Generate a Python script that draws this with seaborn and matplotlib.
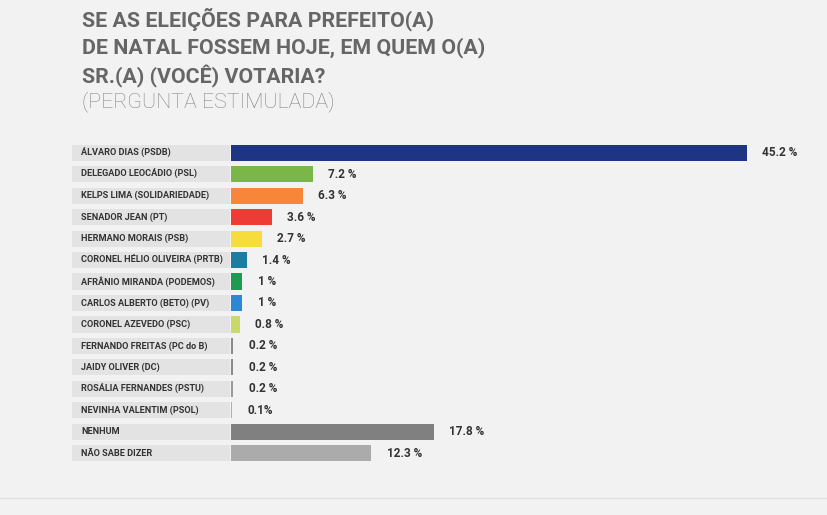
import pandas as pd
import matplotlib.pyplot as plt
import seaborn as sns
from matplotlib.patches import Rectangle
from matplotlib.transforms import blended_transform_factory

# Data
candidates = [
    "ÁLVARO DIAS (PSDB)", "DELEGADO LEOCÁDIO (PSL)", "KELPS LIMA (SOLIDARIEDADE)",
    "SENADOR JEAN (PT)", "HERMANO MORAIS (PSB)", "CORONEL HÉLIO OLIVEIRA (PRTB)",
    "AFRÂNIO MIRANDA (PODEMOS)", "CARLOS ALBERTO (BETO) (PV)", "CORONEL AZEVEDO (PSC)",
    "FERNANDO FREITAS (PC do B)", "JAIDY OLIVER (DC)", "ROSÁLIA FERNANDES (PSTU)",
    "NEVINHA VALENTIM (PSOL)", "NENHUM", "NÃO SABE DIZER",
]
values = [45.2, 7.2, 6.3, 3.6, 2.7, 1.4, 1.0, 1.0, 0.8, 0.2, 0.2, 0.2, 0.1, 17.8, 12.3]
value_labels = ["45.2 %", "7.2 %", "6.3 %", "3.6 %", "2.7 %", "1.4 %", "1 %", "1 %",
                "0.8 %", "0.2 %", "0.2 %", "0.2 %", "0.1%", "17.8 %", "12.3 %"]
colors = ["#1d3582", "#7ab648", "#f7853a", "#ef3b36", "#f6dc3c", "#1a7ea3", "#1f9a50",
          "#2a88d6", "#c9d86a", "#8a8a8a", "#8a8a8a", "#9a9a9a", "#b0b0b0",
          "#808080", "#ababab"]

df = pd.DataFrame({"Candidato": candidates, "Pct": values})

bg = "#f2f2f2"
fig = plt.figure(figsize=(8.28, 5.15), dpi=100, facecolor=bg)
W, H = 828, 515
# axes: bars start at x=231px, 45.2 ends at ~747px
ax = fig.add_axes([231 / W, 1 - 464 / H, 569 / W, (464 - 142) / H])
ax.set_facecolor(bg)

sns.barplot(data=df, y="Candidato", x="Pct", hue="Candidato", palette=colors,
            orient="h", width=0.75, legend=False, ax=ax, saturation=1)

ax.set_xlim(0, 45.2 * 569 / 516)
ax.set_ylim(len(candidates) - 0.5, -0.5)
ax.set_axis_off()

# grey label boxes on the left
trans = blended_transform_factory(fig.transFigure, ax.transData)
for i, name in enumerate(candidates):
    ax.add_patch(Rectangle((72 / W, i - 0.375), (230 - 72) / W, 0.75,
                           transform=trans, facecolor="#e3e3e3", edgecolor="none",
                           clip_on=False))
    ax.text(81 / W, i, name, transform=trans, ha="left", va="center",
            fontsize=6.6, fontweight="bold", color="#333333", family="Roboto")

# value labels
for i, (v, lab) in enumerate(zip(values, value_labels)):
    ax.annotate(lab, xy=(v, i), xytext=(11, 0), textcoords="offset points",
                ha="left", va="center", fontsize=8.5, fontweight="bold",
                color="#333333", family="Roboto")

# title
title_lines = ["SE AS ELEIÇÕES PARA PREFEITO(A)",
               "DE NATAL FOSSEM HOJE, EM QUEM O(A)",
               "SR.(A) (VOCÊ) VOTARIA?"]
for k, line in enumerate(title_lines):
    fig.text(82 / W, 1 - (19 + 28.5 * k) / H, line, ha="left", va="center",
             fontsize=15.4, fontweight="bold", color="#666666", family="Roboto")
fig.text(82 / W, 1 - 102 / H, "(PERGUNTA ESTIMULADA)", ha="left", va="center",
         fontsize=15.4, fontweight="light", color="#858585", family="Roboto")

# bottom separator
fig.add_artist(plt.Line2D([0, 1], [1 - 498 / H] * 2, color="#e0e0e0", lw=1))

fig.savefig("out.png", dpi=100, facecolor=bg)
